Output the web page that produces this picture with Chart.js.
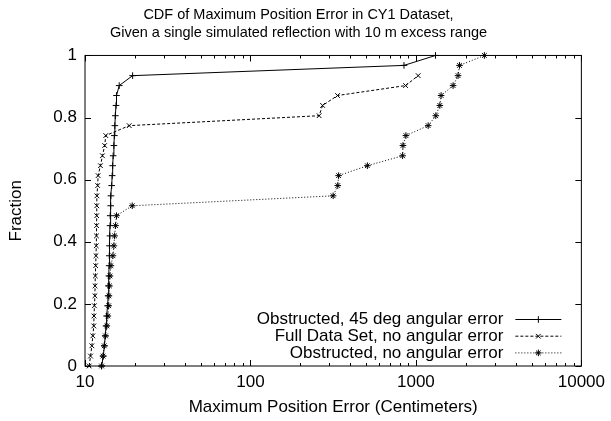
<!DOCTYPE html>
<html>
<head>
<meta charset="utf-8">
<script src="https://cdn.jsdelivr.net/npm/chart.js@4.4.0/dist/chart.umd.min.js"></script>
<style>
  html, body { margin: 0; padding: 0; background: #fff; }
  #wrap { width: 611px; height: 421px; }
</style>
</head>
<body>
<div id="wrap"><canvas id="cdfChart" width="611" height="421"></canvas></div>
<script>
// ================================
// Data
// ================================

const titleLines = ['CDF of Maximum Position Error in CY1 Dataset,',
                    'Given a single simulated reflection with 10 m excess range'];
const xTitle = 'Maximum Position Error (Centimeters)';
const yTitle = 'Fraction';

const xTickValues = [10, 100, 1000, 10000];

// cumulative fraction for each sample (shared by all series)
const fractions = [0, 0.032, 0.065, 0.097, 0.129, 0.161, 0.194, 0.226, 0.258, 0.290,
                   0.323, 0.355, 0.387, 0.419, 0.452, 0.484, 0.516, 0.548, 0.581, 0.613,
                   0.645, 0.677, 0.710, 0.742, 0.774, 0.806, 0.839, 0.871, 0.903, 0.935,
                   0.968, 1.0];

// error in centimeters
const obstructed45 = [12.6, 12.9, 13.1, 13.25, 13.4, 13.5, 13.7, 13.8, 13.85, 13.95,
                      14.0, 14.02, 14.05, 14.15, 14.17, 14.2, 14.3, 14.35, 14.5, 14.6,
                      14.7, 14.8, 14.95, 15.05, 15.15, 15.25, 15.4, 15.5, 16.1, 19.4,
                      847, 1314];
const fullNoAngular = [10.6, 10.8, 11.0, 11.15, 11.3, 11.33, 11.4, 11.48, 11.5, 11.55,
                       11.6, 11.65, 11.7, 11.73, 11.75, 11.77, 11.78, 11.8, 11.93, 12.0,
                       12.4, 12.75, 13.15, 13.35, 18.5, 260, 273, 336, 866, 1032];
const obstructedNoAngular = [12.6, 12.85, 13.07, 13.3, 13.55, 13.75, 13.9, 13.95, 14.05, 14.15,
                             14.35, 14.75, 14.95, 15.1, 15.3, 15.5, 19.3, 316, 337, 341,
                             509, 831, 835, 870, 1186, 1319, 1395, 1420, 1678, 1798,
                             1834, 2594];

const seriesLabels = ['Obstructed, 45 deg angular error',
                      'Full Data Set, no angular error',
                      'Obstructed, no angular error'];

// ================================
// Chart setup
// ================================

const fontFamily = "'Liberation Sans', Arial, Helvetica, sans-serif";
Chart.defaults.font.family = fontFamily;
Chart.defaults.font.size = 17;
Chart.defaults.color = '#000';

function makeSeries(xs, label, style, dash) {
  return {
    label: label,
    data: xs.map((x, i) => ({ x: x, y: fractions[i] })),
    borderColor: '#000',
    borderWidth: 1,
    borderDash: dash,
    pointStyle: style,
    pointRadius: 3.3,
    pointBorderColor: '#000',
    pointBackgroundColor: '#000',
    pointBorderWidth: 1,
    fill: false,
    tension: 0,
    clip: false
  };
}

const datasets = [
  makeSeries(obstructed45, seriesLabels[0], 'cross', []),
  makeSeries(fullNoAngular, seriesLabels[1], 'crossRot', [3, 2]),
  makeSeries(obstructedNoAngular, seriesLabels[2], 'star', [1, 2])
];

// gnuplot-like frame: border, inward ticks and key inside the plot
const gnuplotFrame = {
  id: 'gnuplotFrame',
  afterDraw(chart) {
    const { ctx, chartArea: a, scales } = chart;
    const xs = scales.x, ys = scales.y;
    ctx.save();
    ctx.strokeStyle = '#000';
    ctx.lineWidth = 1;
    ctx.setLineDash([]);
    ctx.strokeRect(a.left, a.top, a.right - a.left, a.bottom - a.top);

    ctx.beginPath();
    // x ticks, major and minor, bottom and top
    for (let d = 10; d <= 10000; d *= 10) {
      for (let m = 1; m < 10; m++) {
        const v = d * m;
        if (v > 10000) break;
        const px = Math.round(xs.getPixelForValue(v)) + 0.5;
        const len = m === 1 ? 6 : 3;
        ctx.moveTo(px, a.bottom); ctx.lineTo(px, a.bottom - len);
        ctx.moveTo(px, a.top); ctx.lineTo(px, a.top + len);
      }
    }
    // y ticks, left and right
    ys.ticks.forEach(t => {
      const py = Math.round(ys.getPixelForValue(t.value)) + 0.5;
      ctx.moveTo(a.left, py); ctx.lineTo(a.left + 6, py);
      ctx.moveTo(a.right, py); ctx.lineTo(a.right - 6, py);
    });
    ctx.stroke();

    // key
    ctx.font = '17px ' + fontFamily;
    ctx.textAlign = 'right';
    ctx.textBaseline = 'middle';
    ctx.fillStyle = '#000';
    chart.data.datasets.forEach((ds, i) => {
      const y = a.bottom - 46.5 + i * 16.7;
      ctx.fillText(ds.label, a.right - 78, y);
      ctx.setLineDash(ds.borderDash);
      ctx.beginPath();
      ctx.moveTo(a.right - 66, y);
      ctx.lineTo(a.right - 20, y);
      ctx.stroke();
      ctx.setLineDash([]);
      Chart.helpers.drawPoint(ctx, { pointStyle: ds.pointStyle, radius: ds.pointRadius, rotation: 0, borderWidth: 1 }, a.right - 43, y);
    });
    ctx.restore();
  }
};

const cdfCtx = document.getElementById('cdfChart');
new Chart(cdfCtx, {
  type: 'line',
  data: { datasets: datasets },
  options: {
    responsive: false,
    animation: false,
    events: [],
    layout: { padding: { left: 14, right: 28, top: 0, bottom: 0 } },
    plugins: {
      legend: { display: false },
      tooltip: { enabled: false },
      title: {
        display: true,
        text: titleLines,
        color: '#000',
        font: { size: 14.5, weight: 'normal', lineHeight: 1.24 },
        padding: { top: 6, bottom: 13.5 }
      }
    },
    scales: {
      x: {
        type: 'logarithmic',
        min: 10,
        max: 10000,
        grid: { display: false, drawTicks: false },
        border: { display: false },
        afterBuildTicks: s => { s.ticks = xTickValues.map(v => ({ value: v })); },
        afterFit: s => { s.height = 55; },
        ticks: { color: '#000', padding: 6, maxRotation: 0, autoSkip: false, callback: v => String(v) },
        title: { display: true, text: xTitle, color: '#000', padding: { top: 0, bottom: 3 } }
      },
      y: {
        min: 0,
        max: 1,
        grid: { display: false, drawTicks: false },
        border: { display: false },
        afterFit: s => { s.width = 71; },
        ticks: { color: '#000', padding: 8, stepSize: 0.2, callback: v => String(+v.toFixed(1)) },
        title: { display: true, text: yTitle, color: '#000', padding: { top: -8, bottom: 0 } }
      }
    }
  },
  plugins: [gnuplotFrame]
});
</script>
</body>
</html>
